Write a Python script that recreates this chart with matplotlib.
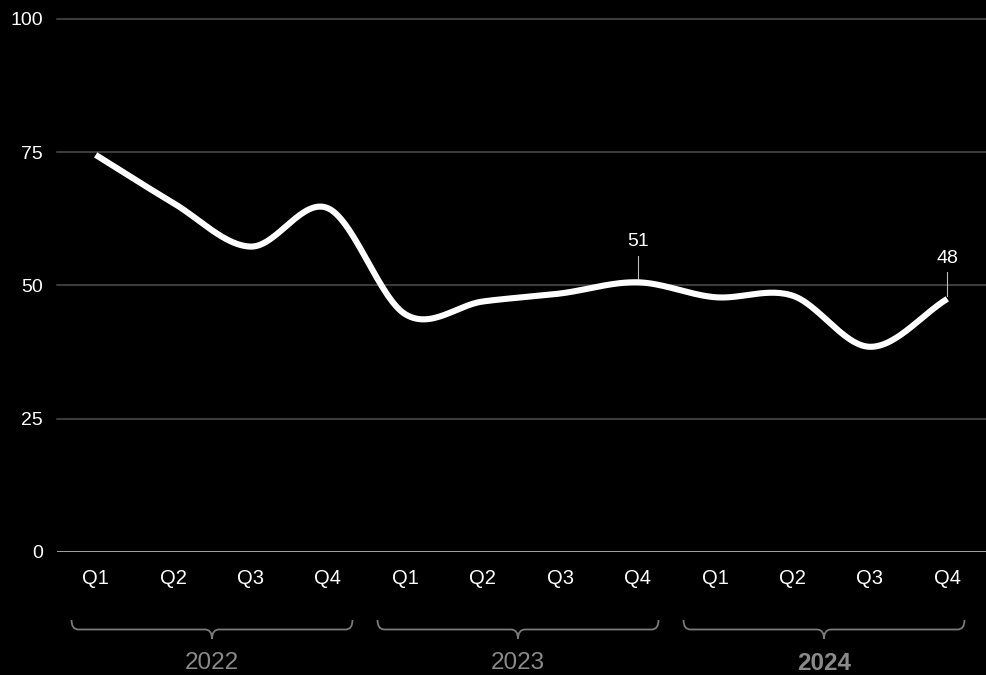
import numpy as np
import matplotlib.pyplot as plt
from matplotlib.path import Path
from matplotlib.patches import PathPatch

quarters = ['Q1', 'Q2', 'Q3', 'Q4'] * 3
years = ['2022', '2023', '2024']
values = [74.5, 65.5, 57.3, 64.5, 44.6, 47, 48.5, 50.6, 47.8, 48.1, 38.5, 47.5]
labelled = {7: '51', 11: '48'}

plt.rcParams['font.family'] = ['Liberation Sans', 'DejaVu Sans']


def smooth(x, y, n=30):
    # catmull-rom style cubic through the points
    x = np.asarray(x, float)
    y = np.asarray(y, float)
    m = np.zeros_like(y)
    m[1:-1] = (y[2:] - y[:-2]) / 2
    m[0] = y[1] - y[0]
    m[-1] = y[-1] - y[-2]
    xs, ys = [], []
    for i in range(len(x) - 1):
        t = np.linspace(0, 1, n, endpoint=False)
        h00 = 2 * t**3 - 3 * t**2 + 1
        h10 = t**3 - 2 * t**2 + t
        h01 = -2 * t**3 + 3 * t**2
        h11 = t**3 - t**2
        xs.append(x[i] + t * (x[i + 1] - x[i]))
        ys.append(h00 * y[i] + h10 * m[i] + h01 * y[i + 1] + h11 * m[i + 1])
    xs.append([x[-1]])
    ys.append([y[-1]])
    return np.concatenate(xs), np.concatenate(ys)


W, H = 986, 675
fig = plt.figure(figsize=(W / 100, H / 100), dpi=100, facecolor='black')
ax = fig.add_axes([57 / W, 123 / H, 1 - 57 / W, 533 / H])
ax.set_facecolor('black')

xpos = np.arange(len(values))
ax.set_xlim(-0.5, len(values) - 0.5)
ax.set_ylim(0, 100)

for v in [25, 50, 75, 100]:
    ax.axhline(v, color='#4d4d4d', lw=1.1, zorder=1, clip_on=False)
ax.axhline(0, color='#b0b0b0', lw=1.3, zorder=1)

sx, sy = smooth(xpos, values)
ax.plot(sx, sy, color='white', lw=4.4, solid_capstyle='butt', zorder=3)

for i, txt in labelled.items():
    ax.plot([i, i], [values[i] + 0.6, values[i] + 5], color='#bbbbbb', lw=0.8, zorder=2)
    ax.text(i, values[i] + 6, txt, color='white', fontsize=14, ha='center', va='bottom')

for s in ax.spines.values():
    s.set_visible(False)
ax.set_yticks([0, 25, 50, 75, 100])
ax.tick_params(axis='y', length=0, pad=10, labelsize=14, labelcolor='white')
ax.set_xticks(xpos)
ax.set_xticklabels(quarters)
ax.tick_params(axis='x', length=0, pad=12, labelsize=14.5, labelcolor='white')

# year braces below the quarter labels, placed in figure pixels
brace_centers = [212, 518, 824]
half = 140.5
y_end = 1 - 620 / H
y_bar = 1 - 629.5 / H
y_tip = 1 - 639 / H
r = 7
for yr, c in zip(years, brace_centers):
    x0, x1 = (c - half) / W, (c + half) / W
    xm = c / W
    rr = r / W
    verts = [(x0, y_end), (x0, y_bar), (x0 + rr, y_bar),
             (xm - rr, y_bar), (xm, y_bar), (xm, y_tip),
             (xm, y_bar), (xm + rr, y_bar),
             (x1 - rr, y_bar), (x1, y_bar), (x1, y_end)]
    codes = [Path.MOVETO, Path.CURVE3, Path.CURVE3,
             Path.LINETO, Path.CURVE3, Path.CURVE3,
             Path.CURVE3, Path.CURVE3,
             Path.LINETO, Path.CURVE3, Path.CURVE3]
    fig.add_artist(PathPatch(Path(verts, codes), fill=False, edgecolor='#7a7a7a', lw=1.3,
                             transform=fig.transFigure))
    fig.text(xm, 1 - 663 / H, yr, ha='center', va='center', fontsize=17.5,
             color='#8a8a8a', fontweight='bold' if yr == '2024' else 'normal')

fig.savefig('out.png', dpi=100, facecolor='black')
